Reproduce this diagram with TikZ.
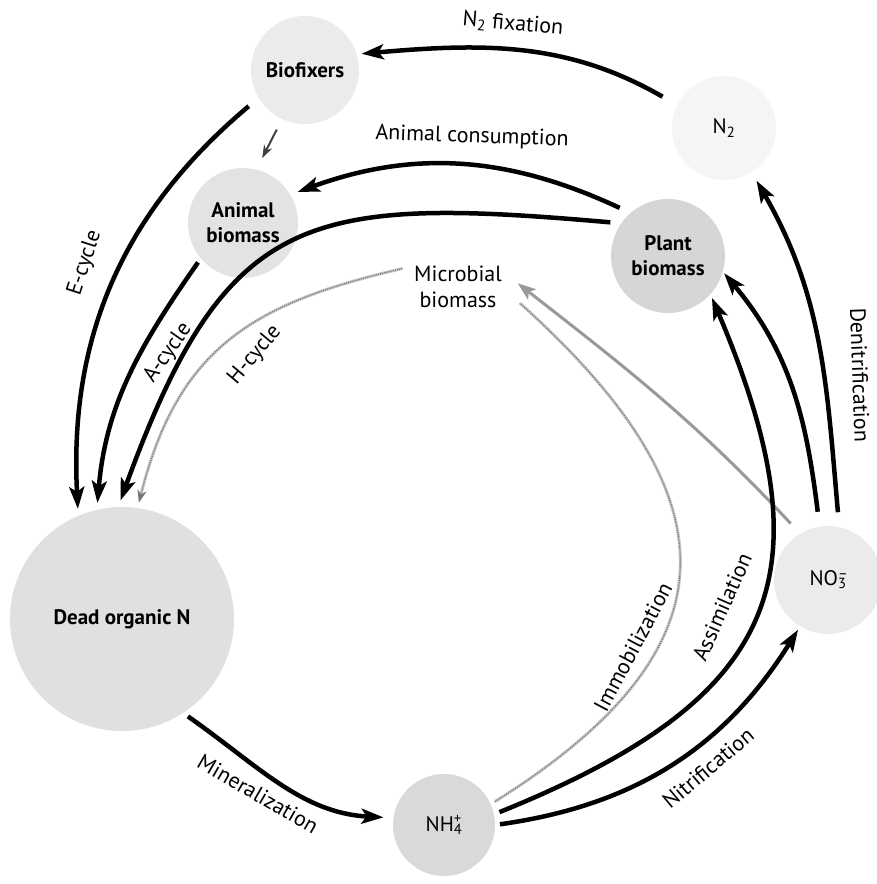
\documentclass[tikz,border=0pt]{standalone}
\usepackage{fontspec}
\setmainfont{PT Sans}
\usetikzlibrary{arrows.meta}
\tikzset{
 pool/.style={circle,inner sep=0pt,outer sep=0pt,align=center,font=\fontsize{21}{25}\selectfont},
 lab/.style={inner sep=0pt,align=center,font=\fontsize{22}{26}\selectfont},
 flow/.style={line width=4.5pt,-{Stealth[length=22pt,width=15pt,inset=5pt]}},
 grayflow/.style={draw=black!40,line width=3pt,-{Stealth[length=18pt,width=13pt,inset=4pt]}},
 faint/.style={draw=black!55,line width=1.2pt,dash pattern=on 1pt off 1.2pt,preaction={draw=black!22,line width=3pt}},
}
\begin{document}
\begin{tikzpicture}[x=1pt,y=1pt]
 \useasboundingbox (0,0) rectangle (877,884); %全体の枠
 \node[pool,fill=black!8,minimum size=108pt,font=\bfseries\fontsize{21}{25}\selectfont] (bio) at (305,814) {Biofixers}; %生物固定者
 \node[pool,fill=black!4,minimum size=104pt] (n2) at (724,756) {N\textsubscript{2}}; %大気N2
 \node[pool,fill=black!11,minimum size=110pt,font=\bfseries\fontsize{21}{25}\selectfont] (animal) at (243,661) {Animal\\biomass}; %動物
 \node[pool,fill=black!16,minimum size=114pt,font=\bfseries\fontsize{21}{25}\selectfont] (plant) at (668,628) {Plant\\biomass}; %植物
 \node[lab] (micro) at (458,597) {Microbial\\biomass}; %微生物
 \node[pool,fill=black!12,minimum size=224pt,font=\bfseries\fontsize{21}{25}\selectfont] (dead) at (122,265) {Dead organic N}; %有機態N
 \node[pool,fill=black!15,minimum size=102pt] (nh4) at (444,59) {NH\rlap{\textsuperscript{+}}\textsubscript{4}}; %アンモニウム
 \node[pool,fill=black!8,minimum size=108pt] (no3) at (828,304) {NO\rlap{\textsuperscript{\textendash}}\textsubscript{3}}; %硝酸

 \draw[flow,shorten <=17pt,shorten >=5pt] (n2.154) to[out=150,in=5] (bio.17); %窒素固定
 \draw[flow,shorten <=12pt,shorten >=8pt] (plant.131) to[out=155,in=20] (animal.31); %動物の摂食
 \draw[flow,shorten <=11pt,shorten >=7pt] (plant.145) to[out=175,in=70,looseness=1.4] (dead.92); %植物→有機態
 \draw[flow,shorten <=5pt,shorten >=7pt] (animal.220) to[out=235,in=85] (dead.103); %A-cycle
 \draw[flow,shorten <=13pt,shorten >=7pt] (bio.211) to[out=220,in=93] (dead.113); %E-cycle
 \draw[faint,-{Stealth[length=12pt,width=9pt]},shorten <=12pt,shorten >=6pt] (micro.north west) to[out=193,in=76,looseness=1.15] (dead.82); %H-cycle
 \draw[black!75,line width=2pt,-{Stealth[length=13pt,width=9pt]},shorten <=12pt,shorten >=13pt] (bio.245) -- (animal.76); %短い矢印
 \draw[flow,shorten <=15pt,shorten >=10pt] (no3.78) to[out=95,in=-60] (n2.302); %脱窒
 \draw[flow,shorten <=15pt,shorten >=2pt] (no3.99) to[out=97,in=-50] (plant.344); %硝酸の吸収
 \draw[grayflow,shorten <=14pt,shorten >=20pt] (no3.121) to[out=133,in=-38] (micro.20); %硝酸の有機化
 \draw[faint,shorten <=5pt,shorten >=24pt] (nh4.24) to[out=32,in=-42,looseness=1.5] (micro.east); %有機化
 \draw[flow,shorten <=6pt,shorten >=4pt] (nh4.12) to[out=22,in=-67,looseness=1.4] (plant.318); %同化
 \draw[flow,shorten <=5pt,shorten >=4pt] (nh4.0) to[out=8,in=238] (no3.239); %硝化
 \draw[flow,shorten <=6pt,shorten >=10pt] (dead.303) to[out=-35,in=177] (nh4.172); %無機化

 \node[lab,rotate=-5] (lfix) at (513,860) {N\textsubscript{2} fixation}; %ラベル
 \node[lab,rotate=-2] (lcons) at (472,747) {Animal consumption};
 \node[lab,rotate=72] (le) at (85,621) {E-cycle};
 \node[lab,rotate=55] (la) at (168,531) {A-cycle};
 \node[lab,rotate=50] (lh) at (255,529) {H-cycle};
 \node[lab,rotate=-88] (lden) at (860,509) {Denitrification};
 \node[lab,rotate=62] (limm) at (633,237) {Immobilization};
 \node[lab,rotate=66] (lass) at (722,277) {Assimilation};
 \node[lab,rotate=40] (lnit) at (708,116) {Nitrification};
 \node[lab,rotate=-30] (lmin) at (258,90) {Mineralization};
\end{tikzpicture}
\end{document}
